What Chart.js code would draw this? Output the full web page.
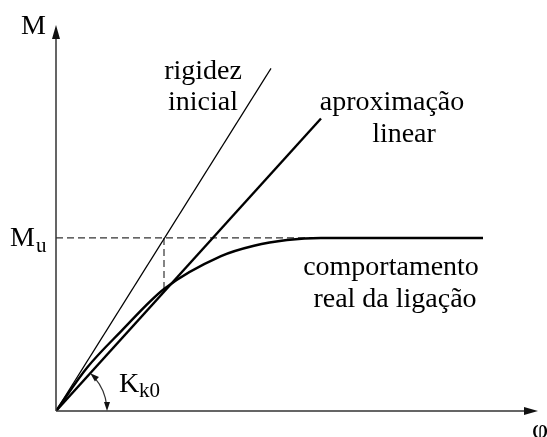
<!DOCTYPE html>
<html>
<head>
<meta charset="utf-8">
<script src="https://cdn.jsdelivr.net/npm/chart.js@4"></script>
<style>
    html, body { margin: 0; padding: 0; background: #fff; }
    #wrap { width: 547px; height: 437px; }
</style>
</head>
<body>
<div id="wrap"><canvas id="chart"></canvas></div>
<script>
// x = rotation (phi), y = moment, with M_u = 1
const rigidezInicial = [[0, 0], [2.15, 1.98]];
const aproximacaoLinear = [[0, 0], [2.65, 1.69]];
const comportamentoReal = [
    [0, 0], [0.31, 0.25], [0.65, 0.46], [1.08, 0.705], [1.65, 0.895],
    [1.98, 0.955], [2.31, 0.988], [2.65, 1.0], [4.27, 1.0]
];
const momentoUltimo = 1.0;
const phiIntersecao = 1.08;   // where the dashed vertical drops
const xMax = 4.84;
const yMax = 2.144;

function toPoints(arr) {
    return arr.map(p => ({ x: p[0], y: p[1] }));
}

const serif = '"Liberation Serif", "DejaVu Serif", serif';

function arrowHead(ctx, x, y, angle, len, half) {
    ctx.save();
    ctx.translate(x, y);
    ctx.rotate(angle);
    ctx.beginPath();
    ctx.moveTo(0, 0);
    ctx.lineTo(-len, -half);
    ctx.lineTo(-len, half);
    ctx.closePath();
    ctx.fill();
    ctx.restore();
}

const drawingPlugin = {
    id: 'drawing',
    beforeDatasetsDraw(chart) {
        const ctx = chart.ctx;
        const xs = chart.scales.x, ys = chart.scales.y;
        const x0 = xs.getPixelForValue(0), y0 = ys.getPixelForValue(0);
        const yu = ys.getPixelForValue(momentoUltimo);
        const xi = xs.getPixelForValue(phiIntersecao);
        const xe = xs.getPixelForValue(aproximacaoLinear[1][0]);
        // interpolate the curve at phiIntersecao
        let yi = 0;
        for (let i = 1; i < comportamentoReal.length; i++) {
            const a = comportamentoReal[i - 1], b = comportamentoReal[i];
            if (phiIntersecao >= a[0] && phiIntersecao <= b[0]) {
                yi = a[1] + (b[1] - a[1]) * (phiIntersecao - a[0]) / (b[0] - a[0]);
                break;
            }
        }
        ctx.save();
        ctx.strokeStyle = '#333';
        ctx.lineWidth = 1.2;
        ctx.setLineDash([7, 4]);
        ctx.beginPath();
        ctx.moveTo(x0, yu);
        ctx.lineTo(xe, yu);
        ctx.moveTo(xi, yu);
        ctx.lineTo(xi, ys.getPixelForValue(yi));
        ctx.stroke();
        ctx.restore();
    },
    afterDraw(chart) {
        const ctx = chart.ctx;
        const xs = chart.scales.x, ys = chart.scales.y;
        const x0 = xs.getPixelForValue(0), y0 = ys.getPixelForValue(0);
        ctx.save();
        ctx.strokeStyle = '#333';
        ctx.fillStyle = '#111';
        ctx.lineWidth = 1.5;

        // axes
        ctx.beginPath();
        ctx.moveTo(x0, y0);
        ctx.lineTo(x0, 38);
        ctx.moveTo(x0, y0);
        ctx.lineTo(525, y0);
        ctx.stroke();
        arrowHead(ctx, x0, 25, -Math.PI / 2, 14, 4);
        arrowHead(ctx, 538, y0, 0, 14, 4);

        // angle arc for K_k0
        const lp = aproximacaoLinear[1];
        const ang = Math.atan2(ys.getPixelForValue(lp[1]) - y0, xs.getPixelForValue(lp[0]) - x0);
        const r = 51;
        ctx.lineWidth = 1.2;
        ctx.beginPath();
        ctx.arc(x0, y0, r, ang + 0.12, -0.1);
        ctx.stroke();
        arrowHead(ctx, x0 + r * Math.cos(ang), y0 + r * Math.sin(ang), ang - Math.PI / 2, 9, 3);
        arrowHead(ctx, x0 + r, y0, Math.PI / 2, 9, 3);

        // labels
        ctx.fillStyle = '#000';
        ctx.textBaseline = 'alphabetic';
        ctx.font = '28px ' + serif;
        ctx.textAlign = 'left';
        ctx.fillText('M', 21, 34);
        ctx.fillText('M', 10, 246);
        ctx.fillText('φ', 532, 438);
        ctx.fillText('K', 119, 392);
        ctx.font = '21px ' + serif;
        ctx.fillText('u', 36, 252);
        ctx.fillText('k0', 139, 397);

        ctx.font = '28px ' + serif;
        ctx.textAlign = 'center';
        ctx.fillText('rigidez', 203, 79);
        ctx.fillText('inicial', 203, 110);
        ctx.fillText('aproximação', 392, 110);
        ctx.fillText('linear', 404, 142);
        ctx.fillText('comportamento', 391, 275);
        ctx.fillText('real da ligação', 395, 307);
        ctx.restore();
    }
};

new Chart(document.getElementById('chart'), {
    type: 'scatter',
    data: {
        datasets: [
            {
                label: 'rigidez inicial',
                data: toPoints(rigidezInicial),
                showLine: true,
                borderColor: '#000',
                borderWidth: 1.2,
                pointRadius: 0
            },
            {
                label: 'aproximação linear',
                data: toPoints(aproximacaoLinear),
                showLine: true,
                borderColor: '#000',
                borderWidth: 2.4,
                pointRadius: 0
            },
            {
                label: 'comportamento real da ligação',
                data: toPoints(comportamentoReal),
                showLine: true,
                borderColor: '#000',
                borderWidth: 2.4,
                pointRadius: 0,
                cubicInterpolationMode: 'monotone'
            }
        ]
    },
    options: {
        responsive: true,
        maintainAspectRatio: false,
        animation: false,
        layout: { padding: { left: 56, right: 7, top: 40, bottom: 26 } },
        plugins: {
            legend: { display: false },
            tooltip: { enabled: false }
        },
        scales: {
            x: { type: 'linear', min: 0, max: xMax, display: false },
            y: { type: 'linear', min: 0, max: yMax, display: false }
        }
    },
    plugins: [drawingPlugin]
});
</script>
</body>
</html>
